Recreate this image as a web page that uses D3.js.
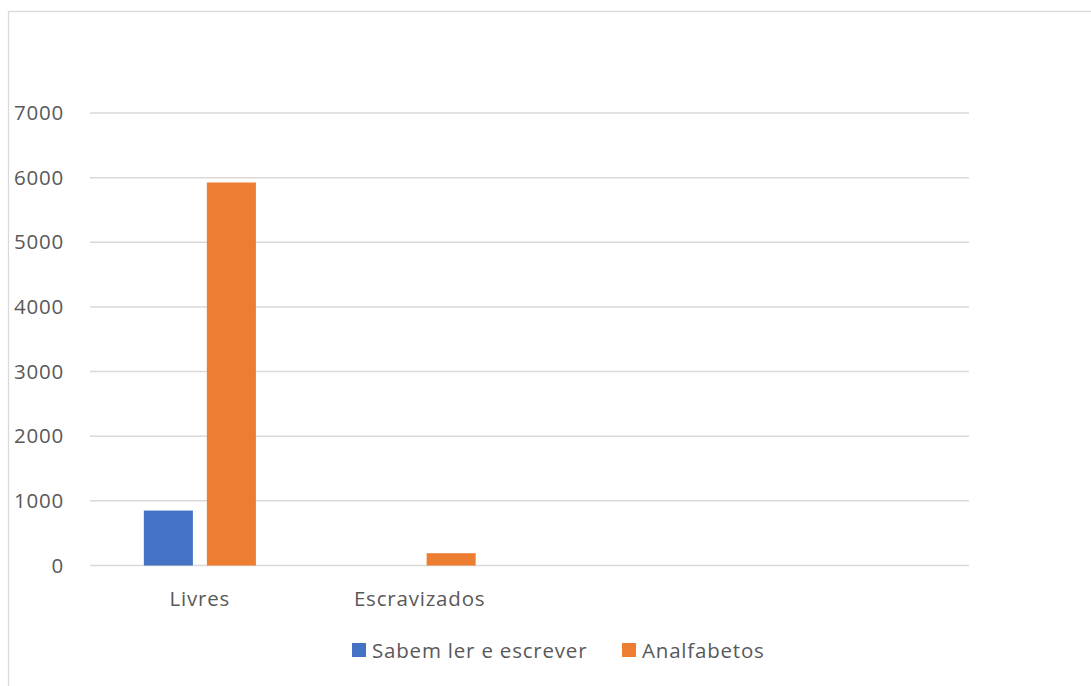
<!DOCTYPE html>
<html>
<head>
<meta charset="utf-8">
<script src="https://cdn.jsdelivr.net/npm/d3@7"></script>
<style>
  body { margin: 0; background: #fff; }
  text { font-family: "Open Sans", sans-serif; fill: #595959; letter-spacing: 0.8px; }
</style>
</head>
<body>
<svg></svg>
<script>
// categories (two empty slots at the end, as in the original sheet)
var categories = ["Livres", "Escravizados", "", ""];
var seriesNames = ["Sabem ler e escrever", "Analfabetos"];
var lerEscrever = [850, 0, null, null];
var analfabetos = [5925, 190, null, null];
var yTicks = [0, 1000, 2000, 3000, 4000, 5000, 6000, 7000];
var colors = ["#4472C4", "#ED7D31"];

var width = 1091;
var height = 686;
var fontSize = 20.5;

var svg = d3.select("svg")
    .attr("width", width)
    .attr("height", height);

// chart area border
svg.append("rect")
    .attr("x", 8.5)
    .attr("y", 11.5)
    .attr("width", width + 10)
    .attr("height", height + 10)
    .attr("fill", "none")
    .attr("stroke", "#d9d9d9")
    .attr("stroke-width", 1.3);

var plotLeft = 90, plotRight = 969;
var plotTop = 113, plotBottom = 565.5;

var x0 = d3.scaleBand()
    .domain(d3.range(categories.length))
    .range([plotLeft, plotRight]);

var groupW = x0.bandwidth() * 0.51;
var x1 = d3.scaleBand()
    .domain(d3.range(seriesNames.length))
    .range([(x0.bandwidth() - groupW) / 2, (x0.bandwidth() + groupW) / 2])
    .paddingInner(0.222);

var y = d3.scaleLinear()
    .domain([0, 7000])
    .range([plotBottom, plotTop]);

// gridlines
svg.append("g")
    .selectAll("line")
    .data(yTicks)
    .enter()
    .append("line")
        .attr("x1", plotLeft)
        .attr("x2", plotRight)
        .attr("y1", d => y(d))
        .attr("y2", d => y(d))
        .attr("stroke", "#d9d9d9")
        .attr("stroke-width", 1.5);

// y axis labels
var yAxis = d3.axisLeft(y).tickValues(yTicks).tickSize(0).tickPadding(0).tickFormat(d3.format("d"));
svg.append("g")
    .attr("transform", "translate(64,0)")
    .call(yAxis)
    .call(g => g.select(".domain").remove())
    .selectAll("text")
        .attr("font-size", fontSize)
        .attr("fill", "#595959")
        .attr("font-family", "Open Sans, sans-serif");

// x axis labels
var xAxis = d3.axisBottom(x0).tickSize(0).tickPadding(0).tickFormat(i => categories[i]);
svg.append("g")
    .attr("transform", "translate(0," + plotBottom + ")")
    .call(xAxis)
    .call(g => g.select(".domain").remove())
    .selectAll("text")
        .attr("dy", null)
        .attr("y", 40)
        .attr("font-size", fontSize)
        .attr("fill", "#595959")
        .attr("font-family", "Open Sans, sans-serif");

// bars
var allSeries = [lerEscrever, analfabetos];
var groups = svg.append("g")
    .selectAll(".cat")
    .data(d3.range(categories.length))
    .enter()
    .append("g")
        .classed("cat", true)
        .attr("transform", i => "translate(" + x0(i) + ",0)");

groups.selectAll("rect")
    .data(i => allSeries.map((s, k) => ({k: k, v: s[i]})).filter(d => d.v))
    .enter()
    .append("rect")
        .attr("x", d => x1(d.k))
        .attr("width", x1.bandwidth())
        .attr("y", d => y(d.v))
        .attr("height", d => y(0) - y(d.v))
        .attr("fill", d => colors[d.k]);

// legend
var legendX = [352, 622];
var legend = svg.append("g")
    .selectAll(".leg")
    .data(seriesNames)
    .enter()
    .append("g")
        .classed("leg", true)
        .attr("transform", (d, i) => "translate(" + legendX[i] + ",643)");

legend.append("rect")
    .attr("width", 14)
    .attr("height", 14)
    .attr("fill", (d, i) => colors[i]);

legend.append("text")
    .attr("x", 20)
    .attr("y", 14.5)
    .attr("font-size", fontSize)
    .text(d => d);
</script>
</body>
</html>
